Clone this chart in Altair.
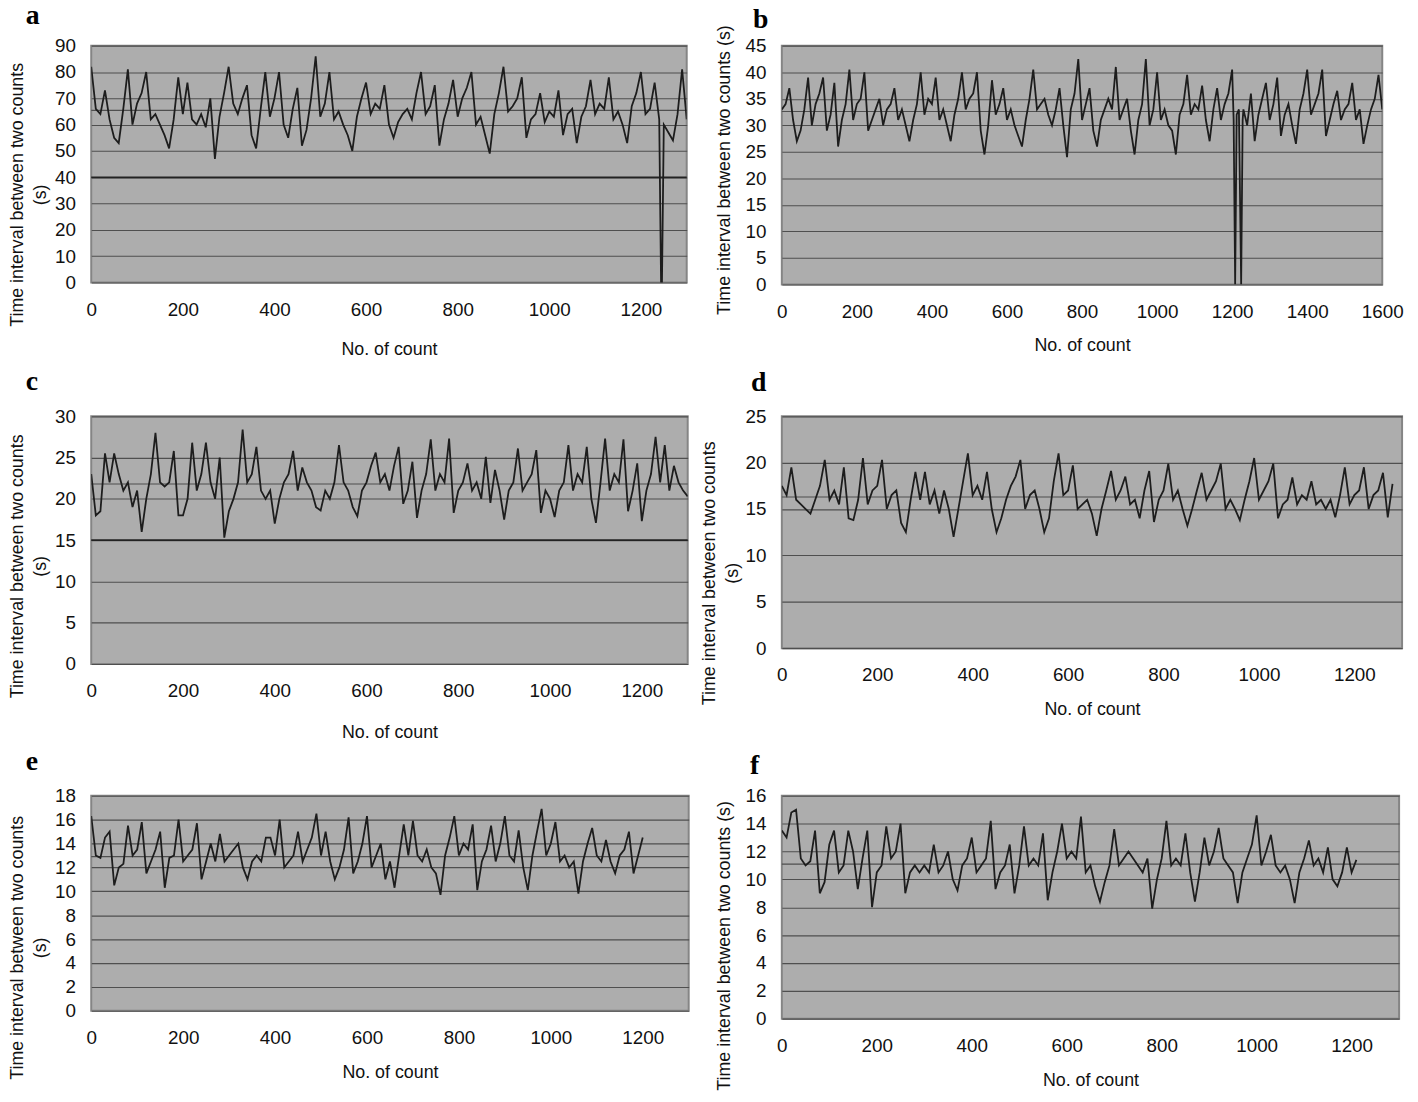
import altair as alt
import pandas as pd

# ---------------- data ----------------
a_counts = list(range(0, 1241, 10)) + [1244, 1246] + list(range(1250, 1301, 10))
a_values = [82, 66, 64, 73, 62, 55, 53, 66, 81, 60, 68, 72, 80, 62, 64, 60, 56, 51, 62, 78,
            64, 76, 62, 60, 64, 59, 70, 47, 63, 72, 82, 68, 64, 70, 75, 56, 51, 66, 80, 63,
            70, 80, 60, 55, 66, 74, 52, 58, 70, 86, 63, 68, 80, 62, 65, 60, 56, 50, 63, 70,
            76, 64, 68, 66, 75, 60, 55, 61, 64, 66, 62, 72, 80, 64, 67, 75, 52, 62, 68, 77,
            63, 70, 74, 80, 60, 63, 56, 49, 64, 72, 82, 65, 67, 70, 78, 55, 62, 64, 72, 61,
            65, 63, 73, 56, 64, 66, 53, 63, 67, 77, 64, 68, 66, 78, 62, 65, 60, 53, 67, 72,
            80, 64, 66, 76, 62,
            0, 0,
            60, 57, 54, 64, 81, 62]

b_counts = list(range(0, 1201, 10)) + [1204, 1208, 1212, 1218, 1224, 1228] + list(range(1230, 1601, 10))
b_values = [33, 34, 37, 31, 27, 29, 33, 39, 30, 34, 36, 39, 29, 32, 38, 26, 31, 34, 40.5, 31,
            34, 35, 40, 29, 31, 33, 35, 30, 33, 34, 37, 31, 33, 30, 27, 31, 34, 40, 32, 35,
            34, 39, 31, 33, 30, 27, 32, 35, 40, 33, 35, 36, 40, 29, 24.5, 30, 38.5, 32, 34, 37,
            31, 33, 30, 28, 26, 31, 35, 40.5, 33, 34, 35, 32, 30, 33, 37, 30, 24, 33, 36, 42.5,
            31, 34, 37, 29, 26, 31, 33, 35, 33, 41, 31, 33, 35, 29, 24.5, 31, 34, 42.5, 30, 33,
            40, 31, 33, 30, 29, 24.5, 32, 34, 39.5, 32, 34, 33, 37.5, 31, 27, 33, 37, 31, 34, 36,
            40.5,
            31, 0, 32, 33, 0, 31,
            33, 30, 36, 27, 32, 35, 38, 31, 34, 39, 28, 32, 34, 30, 26.5, 33, 36, 40.5, 32, 34,
            36, 40.5, 28, 31, 34, 36.5, 31, 33, 34, 38, 31, 33, 26.5, 30, 33, 35, 39.5, 33]

c_counts = list(range(0, 1301, 10))
c_values = [23, 18, 18.5, 25.5, 22, 25.5, 23, 21, 22, 19, 21, 16, 20, 23, 28, 22, 21.5, 22, 25.8, 18,
            18, 20, 26.8, 21, 23, 26.8, 22, 20, 25, 15.3, 18.5, 20, 22, 28.4, 22, 23, 26.3, 21, 20, 21,
            17, 20, 22, 23, 25.8, 21, 23.8, 22, 21, 19, 18.6, 21, 20, 22, 26.5, 22, 21, 19, 17.9, 21,
            22, 24, 25.6, 22, 23, 21, 24, 26.3, 19.4, 21, 24.5, 17.7, 21, 23, 27.2, 21, 23, 22, 27.3, 18.3,
            21, 22, 24.3, 21, 22, 20, 25.1, 19.5, 23.5, 21, 17.5, 21, 22, 26.1, 21, 22, 23, 25.9, 18.3, 21,
            20, 17.8, 21, 22, 26.5, 21, 23, 22, 26.3, 20, 17.1, 22, 27.3, 21, 23, 22, 27.2, 18.5, 21, 24.3,
            17.3, 21, 23, 27.5, 22, 26.5, 21, 24, 22, 21, 20.3]

d_counts = list(range(0, 1281, 10))
d_values = [17.5, 16.5, 19.5, 16, 15.5, 15, 14.5, 16, 17.5, 20.3, 16, 17, 15.5, 19.5, 14, 13.8, 16, 20.5, 15.5, 17,
            17.5, 20.3, 15, 16.5, 17, 13.5, 12.5, 16, 19, 16, 19, 15.5, 17, 14.5, 17, 15, 12, 15, 18, 21,
            16.5, 17.5, 16, 19, 15, 12.5, 14, 16, 17.5, 18.5, 20.3, 15, 16.5, 17, 15, 12.5, 14, 18, 21, 16.5,
            17, 19.7, 15, 15.5, 16, 14.5, 12.1, 15, 17, 19.1, 16, 17, 18.5, 15.5, 16, 14, 17, 19.1, 13.6, 16,
            17, 19.9, 16, 17, 15, 13.2, 15, 17, 18.9, 16, 17, 18, 19.9, 15, 16, 15, 13.8, 16, 18, 20.5,
            16, 17, 18, 19.9, 14, 15.5, 16, 18.4, 15.5, 16.5, 16, 18, 15.5, 16, 15, 16, 14.1, 16.5, 19.5, 15.5,
            16.5, 17, 19.5, 15, 16.5, 17, 18.9, 14.1, 17.7]

e_counts = list(range(0, 1201, 10))
e_values = [16.3, 13, 12.8, 14.5, 15, 10.5, 12, 12.3, 15.5, 13, 13.5, 15.8, 11.5, 12.5, 13.5, 15, 10.3, 12.8, 13, 16,
            12.5, 13, 13.5, 15.7, 11, 12.5, 14, 12.5, 14.8, 12.5, 13, 13.5, 14, 12, 11, 12.5, 13, 12.5, 14.5, 14.5,
            13, 16, 12, 12.5, 13, 15, 12.5, 13.5, 14.5, 16.5, 13, 15, 12.5, 11, 12, 13.5, 16.2, 11.5, 12.5, 14,
            16.3, 12, 13, 14, 11, 12.5, 10.3, 13, 15.6, 13, 15.9, 13, 12.5, 13.5, 12, 11.5, 9.7, 13, 14.5, 16.3,
            13, 14, 13.5, 15.6, 10.1, 12.5, 13.5, 15.5, 12.5, 14, 16.3, 13, 12.5, 15.1, 12, 10.1, 13, 15, 16.9, 13,
            14, 15.8, 12.5, 13, 12, 12.5, 9.8, 12.5, 14, 15.3, 13, 12.5, 14.3, 12.5, 11.5, 13, 13.5, 15, 11.5, 13,
            14.5]

f_counts = list(range(0, 1211, 10))
f_values = [13.5, 13, 14.8, 15, 11.5, 11, 11.3, 13.5, 9, 9.8, 12.5, 13.5, 10.5, 11, 13.5, 12, 9.3, 11.5, 13.5, 8,
            10.5, 11, 13.8, 11.5, 12, 14, 9, 10.5, 11, 10.5, 11, 10.5, 12.5, 10.5, 11, 12, 10, 9.2, 11, 11.5,
            13, 10.5, 11, 11.5, 14.2, 9.3, 10.5, 11, 12.5, 9, 11, 13.8, 11, 11.5, 11, 13.3, 8.5, 10.5, 12, 14,
            11.5, 12, 11.5, 14.5, 10.5, 11, 9.5, 8.4, 9.8, 11, 13.6, 11, 11.5, 12, 11.5, 11, 10.5, 11.5, 7.9, 10,
            11.5, 14.2, 11, 11.5, 11, 13.3, 10.5, 8.4, 10.5, 13, 11, 12, 13.7, 11.5, 11, 10.5, 8.3, 10.5, 11.5, 12.5,
            14.6, 11, 12, 13.2, 11, 10.5, 11, 10, 8.3, 10.5, 11.5, 12.8, 11, 11.5, 10.5, 12.3, 10, 9.5, 10.5, 12.3,
            10.5, 11.4]

# mean reference lines and darker lines seen in the panels
mean_lines = {"a": 65.4, "b": 32.6, "c": 21.8, "d": 16.3, "e": 12.9, "f": 11.1}
dark_lines = {"a": 40, "c": 15}

Y_TITLE_2 = ["Time interval between two counts", "(s)"]
Y_TITLE_1 = "Time interval between two counts (s)"

PLOT_BG = "#adadad"
GRID = "#4f4f4f"
LINE = "#1d1d1d"


def panel(key, counts, values, ymax, ystep, xmax, w, h, ytitle, title_x, title_y, xtitle_y, lx, ly):
    df = pd.DataFrame({"count": counts, "value": values})
    xenc = alt.X(
        "count:Q",
        scale=alt.Scale(domain=[0, xmax], nice=False, zero=True),
        axis=alt.Axis(values=list(range(0, xmax + 1, 200)), title="No. of count", format="d",
                      titleY=xtitle_y, titleBaseline="middle", labelPadding=18,
                      labelFlush=False, grid=False),
    )
    yenc = alt.Y(
        "value:Q",
        scale=alt.Scale(domain=[0, ymax], nice=False, zero=True),
        axis=alt.Axis(values=list(range(0, ymax + 1, ystep)), title=ytitle,
                      titleX=title_x, titleY=title_y, titleAlign="center",
                      titleBaseline="bottom", titleLineHeight=23,
                      labelPadding=16, grid=True),
    )
    ref = pd.DataFrame({"value": [mean_lines[key]]})
    layers = [alt.Chart(ref).mark_rule(color=GRID, strokeWidth=1.2).encode(y=yenc)]
    if key in dark_lines:
        dk = pd.DataFrame({"value": [dark_lines[key]]})
        layers.append(alt.Chart(dk).mark_rule(color="#222222", strokeWidth=1.8).encode(y=yenc))
    layers.append(alt.Chart(df).mark_line(color=LINE, strokeWidth=1.8, clip=True).encode(x=xenc, y=yenc))
    layers.append(
        alt.Chart(ref).mark_text(text=key, font="Liberation Serif", fontWeight="bold", fontSize=28,
                                 align="left", baseline="alphabetic", color="#000000")
        .encode(x=alt.value(lx), y=alt.value(ly))
    )
    return alt.layer(*layers).properties(
        width=w, height=h,
        view=alt.ViewBackground(fill=PLOT_BG, stroke="#858585", strokeWidth=2),
    )


pa = panel("a", a_counts, a_values, 90, 10, 1300, 601, 239, Y_TITLE_2, -65, 150, 68, -66, -22)
pb = panel("b", b_counts, b_values, 45, 5, 1600, 606, 241, Y_TITLE_1, -49, 125, 62, -29, -18)
pc = panel("c", c_counts, c_values, 30, 5, 1300, 602, 250, Y_TITLE_2, -65, 151, 69, -66, -27)
pdd = panel("d", d_counts, d_values, 25, 5, 1300, 626, 234, Y_TITLE_2, -64, 158, 62, -31, -26)
pe = panel("e", e_counts, e_values, 18, 2, 1300, 603, 217, Y_TITLE_2, -65, 153, 62, -66, -26)
pf = panel("f", f_counts, f_values, 16, 2, 1300, 623, 225, Y_TITLE_1, -49, 151, 62, -32, -22)

chart = alt.concat(
    pa, pb, pc, pdd, pe, pf,
    columns=2, spacing={"row": 133, "column": 94}, bounds="flush", align="each",
).properties(
    padding={"left": 0, "top": -12, "right": 5, "bottom": 5}
).configure_view(stroke="transparent").configure_axis(
    labelFont="Liberation Sans", titleFont="Liberation Sans",
    labelFontSize=19, titleFontSize=18, titleFontWeight="normal",
    labelColor="#111111", titleColor="#111111",
    gridColor=GRID, gridWidth=1.2, domain=False, ticks=False, tickSize=0,
)

chart.save("out.html", embed_options={"renderer": "svg", "actions": False})
